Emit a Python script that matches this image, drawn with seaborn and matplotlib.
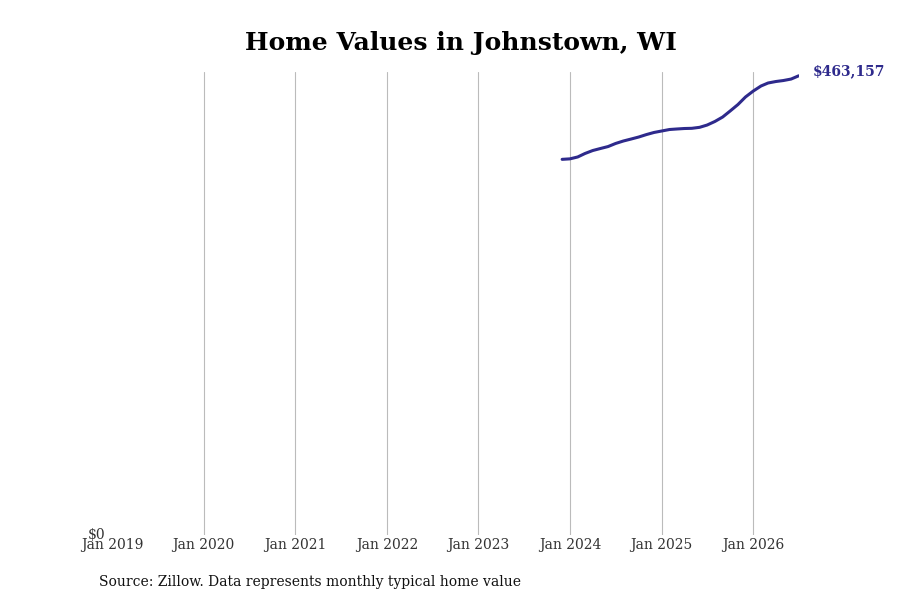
import pandas as pd
import matplotlib
matplotlib.use('Agg')
import matplotlib.pyplot as plt
import matplotlib.dates as mdates
from matplotlib.ticker import FixedLocator
import seaborn as sns

# Dữ liệu (giá trị nhà điển hình hàng tháng)
months = pd.date_range('2023-12-01', '2026-07-01', freq='MS')
home_values = [
    378900, 379400, 381300, 384800, 387800, 389800, 391800, 394900,
    397400, 399400, 401400, 403900, 406000, 407500, 409000, 409500,
    410000, 410200, 411200, 413500, 417100, 421600, 427700, 434200,
    441800, 447800, 452900, 455900, 457400, 458400, 459900, 463157,
]
year_ticks = pd.date_range('2019-01-01', '2026-01-01', freq='YS')
LINE_COLOR = '#2e2a8c'

df = pd.DataFrame({'date': months, 'value': home_values})

sns.set_style('white')
plt.rcParams['font.family'] = ['DejaVu Serif']

fig = plt.figure(figsize=(9, 6), dpi=100)
ax = fig.add_axes([0.1244, 0.1083, 0.7630, 0.7717])

sns.lineplot(data=df, x='date', y='value', ax=ax, color=LINE_COLOR, linewidth=2.2)

ax.set_xlim(pd.Timestamp('2019-01-01'), months[-1])
ax.set_ylim(0, max(home_values) * 1.0083)

ax.xaxis.set_major_locator(FixedLocator(mdates.date2num(year_ticks)))
ax.set_xticklabels([d.strftime('Jan %Y') for d in year_ticks])
ax.set_yticks([0])
ax.set_yticklabels(['$0'])
ax.tick_params(axis='x', length=0, labelsize=10, labelcolor='#333333', pad=2)
ax.tick_params(axis='y', length=0, labelsize=10, labelcolor='#333333', pad=5)
for lbl in ax.get_yticklabels():
    lbl.set_verticalalignment('center')

ax.grid(axis='x', color='#bbbbbb', linewidth=0.8)
ax.grid(axis='y', visible=False)
# không có đường lưới ở Jan 2019
ax.xaxis.get_gridlines()[0].set_visible(False)
for s in ax.spines.values():
    s.set_visible(False)
ax.set_xlabel('')
ax.set_ylabel('')

ax.annotate('$%s' % format(home_values[-1], ','), xy=(months[-1], home_values[-1]),
            xytext=(10, 3), textcoords='offset points', color=LINE_COLOR,
            fontsize=10, fontweight='bold', va='center', ha='left')

fig.text(0.512, 0.928, 'Home Values in Johnstown, WI', fontsize=18, fontweight='bold',
         color='black', ha='center', va='center')
fig.text(0.11, 0.03, 'Source: Zillow. Data represents monthly typical home value',
         fontsize=10, color='#111111', va='center')

fig.savefig('out.png', dpi=100)
plt.close()
